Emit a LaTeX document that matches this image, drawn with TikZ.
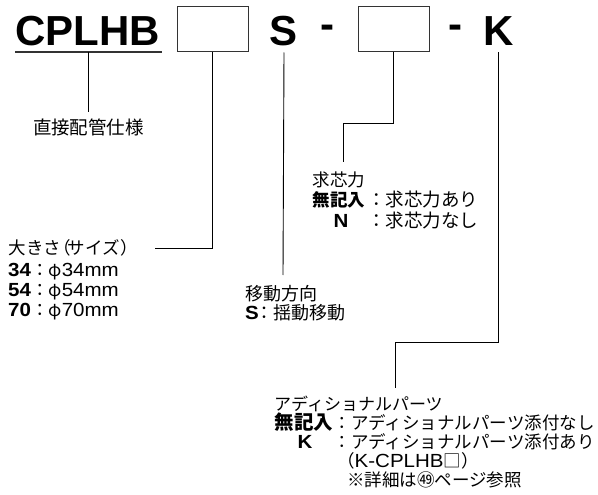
\documentclass[tikz,border=0pt]{standalone}
\usepackage{fontspec}
\setmainfont{Liberation Sans}
\newfontfamily\jp{Noto Sans CJK JP}
\newfontfamily\lat[FakeStretch=1.08]{Liberation Sans}
\tikzset{
  big/.style={font=\fontsize{42}{42}\selectfont\bfseries, inner sep=0pt, anchor=base},
  codebox/.style={draw=black!80, line width=1pt, minimum width=71pt, minimum height=45pt, inner sep=0pt},
  txt/.style={font=\fontsize{17.5}{20}\selectfont\jp, inner sep=0pt, anchor=base west},
  lead/.style={line width=0.9pt, draw=black},
}
\newcommand{\lt}[1]{{\lat\fontsize{19}{20}\selectfont #1}}
\newcommand{\lb}[1]{{\lat\bfseries\fontsize{19}{20}\selectfont #1}}
\begin{document}
\begin{tikzpicture}[x=1pt,y=-1pt]
\useasboundingbox (0,0) rectangle (598,495);
% top row
\node[big, anchor=base west] (cplhb) at (15,46) {CPLHB};
\draw[line width=1.1pt, black!80] ([yshift=-6pt]cplhb.base west) -- ([yshift=-6pt, xshift=2pt]cplhb.base east);
\node[codebox] (box1) at (212.5,29.5) {};
\node[big] (s) at (284,46) {S};
\node[big] (d1) at (327.5,39) {-};
\node[codebox] (box2) at (393.5,29.5) {};
\node[big] (d2) at (455.5,39) {-};
\node[big] (k) at (498.5,46) {K};
% coordinates
\coordinate (c1a) at (88,52);
\coordinate (c1b) at (88,112);
\coordinate (c2) at (155,248);
\coordinate (c3) at (283,275);
\coordinate (c4) at (343,162);
\coordinate (c5) at (395,388);
% leads
\draw[lead] (c1a) -- (c1b);
\draw[lead] (box1.south) |- (c2);
\draw[lead] (s.base |- box1.south) -- (c3);
\draw[lead] (box2.south) -- ++(0,71) -| (c4);
\draw[lead] (k.base |- box2.south) -- ++(0,290) -| (c5);
% labels
\node[txt, anchor=base, font=\fontsize{18.5}{20}\selectfont\jp] (spec) at (88.5,135) {直接配管仕様};

\node[txt] (sz0) at (8.5,254) {大きさ\kern-8pt（\kern-3pt サイズ\kern1pt）};
\node[txt] (sz1) at (8,276) {\lb{34}：φ\lt{34mm}};
\node[txt] (sz2) at (8,296) {\lb{54}：φ\lt{54mm}};
\node[txt] (sz3) at (8,316) {\lb{70}：φ\lt{70mm}};

\node[txt, font=\fontsize{18}{20}\selectfont\jp] (mv1) at (245,300) {移動方向};
\node[txt, font=\fontsize{18}{20}\selectfont\jp] (mv2) at (245,319) {\lb{S}\kern-3pt：揺動移動};

\node[txt] (ks1) at (312.5,186) {求芯力};
\node[txt] (ks2l) at (312.5,206) {\bfseries 無記入};
\node[txt, font=\fontsize{18.5}{20}\selectfont\jp] (ks2v) at (367,206) {：求芯力あり};
\node[txt, anchor=base] (ks3l) at (341,227) {\lb{N}};
\node[txt, font=\fontsize{18.5}{20}\selectfont\jp] (ks3v) at (367,227) {：求芯力なし};

\node[txt, font=\fontsize{17}{20}\selectfont\jp] (ad1) at (274,410) {アディショナルパーツ};
\node[txt, font=\fontsize{19.5}{20}\selectfont\jp] (ad2l) at (274.5,429) {\bfseries 無記入};
\node[txt] (ad2v) at (333.5,429) {：アディショナルパーツ添付なし};
\node[txt, anchor=base] (ad3l) at (305,448) {\lb{K}};
\node[txt] (ad3v) at (333.5,448) {：アディショナルパーツ添付あり};
\node[txt] (ad4) at (337,467) {（\lt{K-CPLHB}□）};
\node[txt] (ad5) at (347,486) {※詳細は㊾ページ参照};
\end{tikzpicture}
\end{document}
